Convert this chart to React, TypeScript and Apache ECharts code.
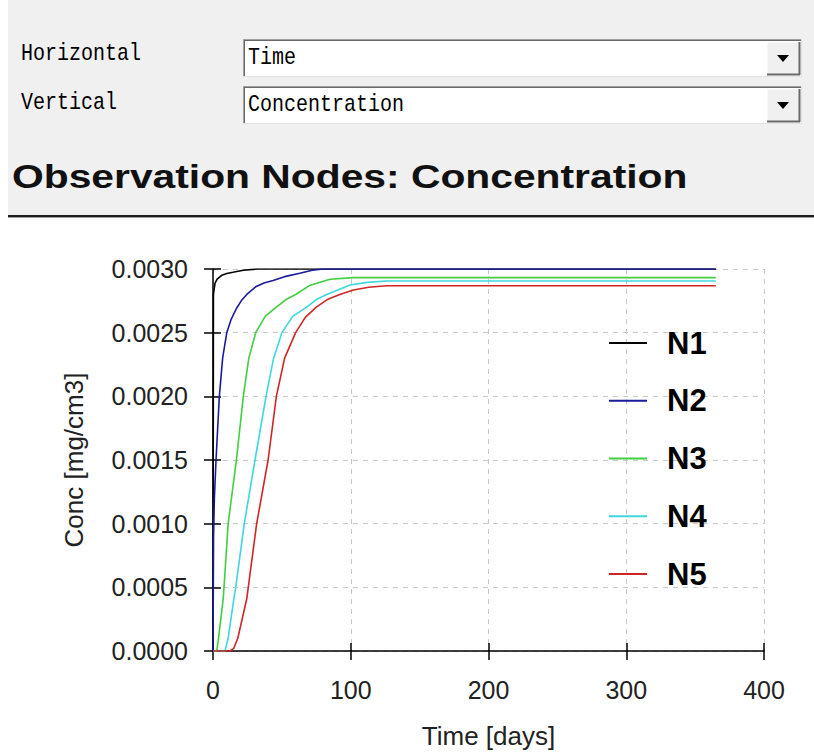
import React, { useEffect, useRef } from "react";
import * as echarts from "echarts";

const seriesNames = ["N1", "N2", "N3", "N4", "N5"];
const seriesColors = ["#000000", "#1a1a9c", "#3fcf3f", "#3fd6df", "#d02525"];

// time [days], concentration [mg/cm3]
const n1: [number, number][] = [
  [0, 0], [0.3, 0.0028], [1.5, 0.00289], [3, 0.00292], [6.3, 0.00295], [10, 0.002965],
  [14.5, 0.002974], [22, 0.00299], [32, 0.003], [365, 0.003],
];
const n2: [number, number][] = [
  [0, 0], [0.4, 0.0009], [1, 0.0012], [2.2, 0.0015], [4.6, 0.002], [7, 0.0023], [10, 0.0025],
  [13, 0.0026], [17, 0.00269], [20.5, 0.00275], [24.5, 0.0028], [31, 0.00286], [37, 0.00289],
  [43.6, 0.00291], [52, 0.00294], [63, 0.002966], [72, 0.00299], [80, 0.003], [365, 0.003],
];
const n3: [number, number][] = [
  [0, 0], [2.7, 0], [4, 0.0001], [7.3, 0.0004], [8, 0.0005], [11, 0.001], [17, 0.0015],
  [22, 0.002], [26, 0.0023], [31, 0.0025], [38, 0.00263], [46, 0.0027], [53, 0.00276],
  [60, 0.0028], [70, 0.00287], [85, 0.00292], [102, 0.002932], [365, 0.002932],
];
const n4: [number, number][] = [
  [0, 0], [8.7, 0], [11, 0.0001], [15, 0.0004], [16.5, 0.0005], [22.7, 0.001], [30.5, 0.0015],
  [38.5, 0.002], [44, 0.0023], [50, 0.0025], [58, 0.00263], [68, 0.0027], [75, 0.00276],
  [82.5, 0.0028], [99.5, 0.002875], [112, 0.002895], [126, 0.002906], [365, 0.002906],
];
const n5: [number, number][] = [
  [0, 0], [12.3, 0], [15, 0.00002], [18, 0.0001], [24.5, 0.00041], [25.6, 0.0005],
  [31.7, 0.001], [40, 0.0015], [46, 0.002], [52, 0.0023], [60, 0.0025], [67, 0.00262],
  [75, 0.0027], [83, 0.00276], [92, 0.0028], [102, 0.002835], [113, 0.002857],
  [126, 0.002869], [365, 0.002869],
];
const seriesData = [n1, n2, n3, n4, n5];

const xAxisTitle = "Time [days]";
const yAxisTitle = "Conc [mg/cm3]";
const pageTitle = "Observation Nodes: Concentration";
const horizontalLabel = "Horizontal";
const verticalLabel = "Vertical";
const horizontalValue = "Time";
const verticalValue = "Concentration";

const SANS = "'Liberation Sans', Arial, sans-serif";
const MONO = "'Liberation Mono', 'DejaVu Sans Mono', monospace";

function comboBox(y: number, h: number, text: string) {
  const x0 = 243;
  const x1 = 802;
  const y1 = y + h;
  const bx = 767;
  const by = y + 3;
  const bh = h - 5;
  const cy = y + h / 2;
  return [
    { type: "rect", shape: { x: x0, y, width: x1 - x0, height: h }, style: { fill: "#ffffff" } },
    { type: "line", shape: { x1: x0, y1: y + 0.5, x2: x1, y2: y + 0.5 }, style: { stroke: "#a0a0a0", lineWidth: 1 } },
    { type: "line", shape: { x1: x0 + 1, y1: y + 1.5, x2: x1 - 1, y2: y + 1.5 }, style: { stroke: "#696969", lineWidth: 1 } },
    { type: "line", shape: { x1: x0 + 0.5, y1: y, x2: x0 + 0.5, y2: y1 }, style: { stroke: "#a0a0a0", lineWidth: 1 } },
    { type: "line", shape: { x1: x0 + 1.5, y1: y + 1, x2: x0 + 1.5, y2: y1 - 1 }, style: { stroke: "#696969", lineWidth: 1 } },
    { type: "line", shape: { x1: x0, y1: y1 - 0.5, x2: x1, y2: y1 - 0.5 }, style: { stroke: "#e3e3e3", lineWidth: 1 } },
    { type: "line", shape: { x1: x1 - 0.5, y1: y, x2: x1 - 0.5, y2: y1 }, style: { stroke: "#e3e3e3", lineWidth: 1 } },
    { type: "rect", shape: { x: bx, y: by, width: x1 - 2 - bx, height: bh }, style: { fill: "#f0f0f0", stroke: "#ffffff", lineWidth: 1 } },
    { type: "line", shape: { x1: bx, y1: by + bh - 0.5, x2: x1 - 2, y2: by + bh - 0.5 }, style: { stroke: "#696969", lineWidth: 2 } },
    { type: "line", shape: { x1: x1 - 2.5, y1: by, x2: x1 - 2.5, y2: by + bh }, style: { stroke: "#696969", lineWidth: 2 } },
    { type: "polygon", shape: { points: [[777, cy - 3], [789, cy - 3], [783, cy + 4]] }, style: { fill: "#000000" } },
    { type: "text", x: 248, y: cy + 0.5, scaleY: 1.2, style: { text, font: `20px ${MONO}`, fill: "#000000", verticalAlign: "middle", align: "left" } },
  ];
}

export default function App() {
  const ref = useRef<HTMLDivElement>(null);

  useEffect(() => {
    if (!ref.current) return;
    const chart = echarts.init(ref.current, null, { renderer: "svg" });

    const graphic: any[] = [
      { type: "rect", shape: { x: 8, y: 0, width: 806, height: 215 }, style: { fill: "#f0f0f0" } },
      { type: "line", shape: { x1: 8, y1: 216, x2: 814, y2: 216 }, style: { stroke: "#1e1e1e", lineWidth: 2 } },
      { type: "line", shape: { x1: 8, y1: 217.5, x2: 814, y2: 217.5 }, style: { stroke: "#a0a0a0", lineWidth: 1 } },
      { type: "text", x: 21, y: 54, scaleY: 1.2, style: { text: horizontalLabel, font: `20px ${MONO}`, fill: "#000", verticalAlign: "middle" } },
      { type: "text", x: 21, y: 103, scaleY: 1.2, style: { text: verticalLabel, font: `20px ${MONO}`, fill: "#000", verticalAlign: "middle" } },
      ...comboBox(39, 38, horizontalValue),
      ...comboBox(86, 38, verticalValue),
      { type: "text", x: 12, y: 176, scaleX: 1.2, style: { text: pageTitle, font: `bold 34px ${SANS}`, fill: "#111", verticalAlign: "middle" } },
    ];

    const axisCommon = {
      axisLine: { show: true, onZero: false, lineStyle: { color: "#000", width: 1.5 } },
      axisTick: { show: true, inside: false, length: 9, lineStyle: { color: "#000", width: 1.5 } },
      splitLine: { show: true, lineStyle: { color: "#c8c8c8", type: [5, 5], width: 1 } },
    };
    const tickOnly = {
      axisLine: { show: false },
      axisLabel: { show: false },
      splitLine: { show: false },
      axisTick: { show: true, inside: true, length: 8, lineStyle: { color: "#000", width: 1.5 } },
    };

    chart.setOption({
      animation: false,
      backgroundColor: "#ffffff",
      textStyle: { fontFamily: SANS },
      graphic,
      grid: { left: 213, top: 269, right: 50, bottom: 102, containLabel: false },
      xAxis: [
        {
          type: "value", min: 0, max: 400, interval: 100, position: "bottom",
          name: xAxisTitle, nameLocation: "middle", nameGap: 72,
          nameTextStyle: { fontSize: 26, color: "#222", fontFamily: SANS },
          axisLabel: { fontSize: 25, color: "#222", margin: 26, fontFamily: SANS },
          ...axisCommon,
        },
        { type: "value", min: 0, max: 400, interval: 100, position: "bottom", ...tickOnly },
      ],
      yAxis: [
        {
          type: "value", min: 0, max: 0.003, interval: 0.0005, position: "left",
          name: yAxisTitle, nameLocation: "middle", nameGap: 126,
          nameTextStyle: { fontSize: 26, color: "#222", fontFamily: SANS },
          axisLabel: { fontSize: 25, color: "#222", margin: 25, fontFamily: SANS, formatter: (v: number) => v.toFixed(4) },
          ...axisCommon,
        },
        { type: "value", min: 0, max: 0.003, interval: 0.0005, position: "left", ...tickOnly },
      ],
      legend: {
        orient: "vertical",
        left: 604,
        top: 322,
        itemWidth: 38,
        itemHeight: 2,
        itemGap: 25.75,
        icon: "path://M0,0 H38 V2 H0 Z",
        selectedMode: false,
        data: seriesNames,
        textStyle: { fontSize: 31, fontWeight: "bold", color: "#000", lineHeight: 32, fontFamily: SANS, padding: [0, 0, 0, 15] },
      },
      series: seriesNames.map((name, i) => ({
        name,
        type: "line",
        xAxisIndex: 0,
        yAxisIndex: 0,
        data: seriesData[i],
        symbol: "none",
        showSymbol: false,
        color: seriesColors[i],
        itemStyle: { color: seriesColors[i] },
        lineStyle: { color: seriesColors[i], width: 1.6 },
      })),
    });

    return () => chart.dispose();
  }, []);

  return (
    <div
      ref={ref}
      style={{ position: "fixed", left: 0, top: 0, width: 814, height: 754, background: "#fff" }}
    />
  );
}
